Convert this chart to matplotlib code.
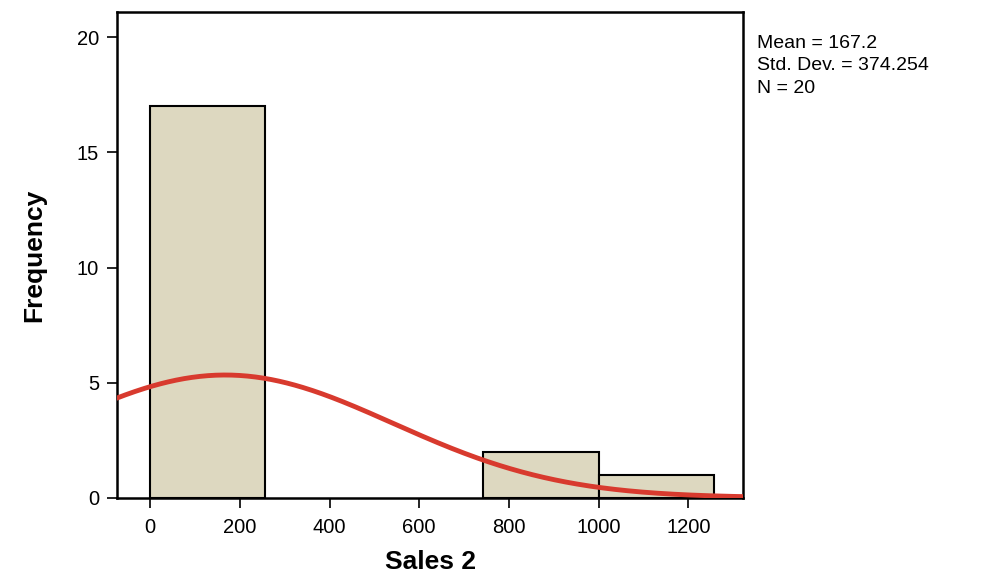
import numpy as np
import matplotlib
matplotlib.use("Agg")
import matplotlib.pyplot as plt

plt.rcParams['font.family'] = ['Liberation Sans', 'DejaVu Sans']

# histogram bins (left edge, width) and counts
bin_left = [0, 743, 1000]
bin_width = [257, 257, 257]
counts = [17, 2, 1]

mean = 167.2
std_dev = 374.254
n = 20
curve_binw = 250

fig = plt.figure(figsize=(9.85, 5.76), dpi=100)
ax = fig.add_axes([0.1188, 0.136, 0.6355, 0.843])

ax.bar(bin_left, counts, width=bin_width, align='edge',
       color='#ddd8c0', edgecolor='black', linewidth=1.5, zorder=2)

xs = np.linspace(-80, 1330, 400)
ys = n * curve_binw / (std_dev * np.sqrt(2 * np.pi)) * np.exp(-0.5 * ((xs - mean) / std_dev) ** 2)
ax.plot(xs, ys, color='#d83a2e', linewidth=3.5, zorder=3, solid_capstyle='butt')

ax.set_xlim(-74, 1322)
ax.set_ylim(0, 21.1)
ax.set_xticks(range(0, 1201, 200))
ax.set_yticks([0, 5, 10, 15, 20])
ax.tick_params(direction='out', length=7, width=1.2, labelsize=14.5, colors='black')
ax.tick_params(axis='x', pad=8)
ax.tick_params(axis='y', pad=6)
for s in ax.spines.values():
    s.set_linewidth(1.8)

ax.set_xlabel('Sales 2', fontsize=19, fontweight='bold', labelpad=9)
ax.set_ylabel('Frequency', fontsize=19, fontweight='bold', labelpad=22)

fig.text(0.769, 0.94, 'Mean = 167.2\nStd. Dev. = 374.254\nN = 20',
         fontsize=14, va='top', ha='left', linespacing=1.45)

fig.savefig('out.png', dpi=100)
